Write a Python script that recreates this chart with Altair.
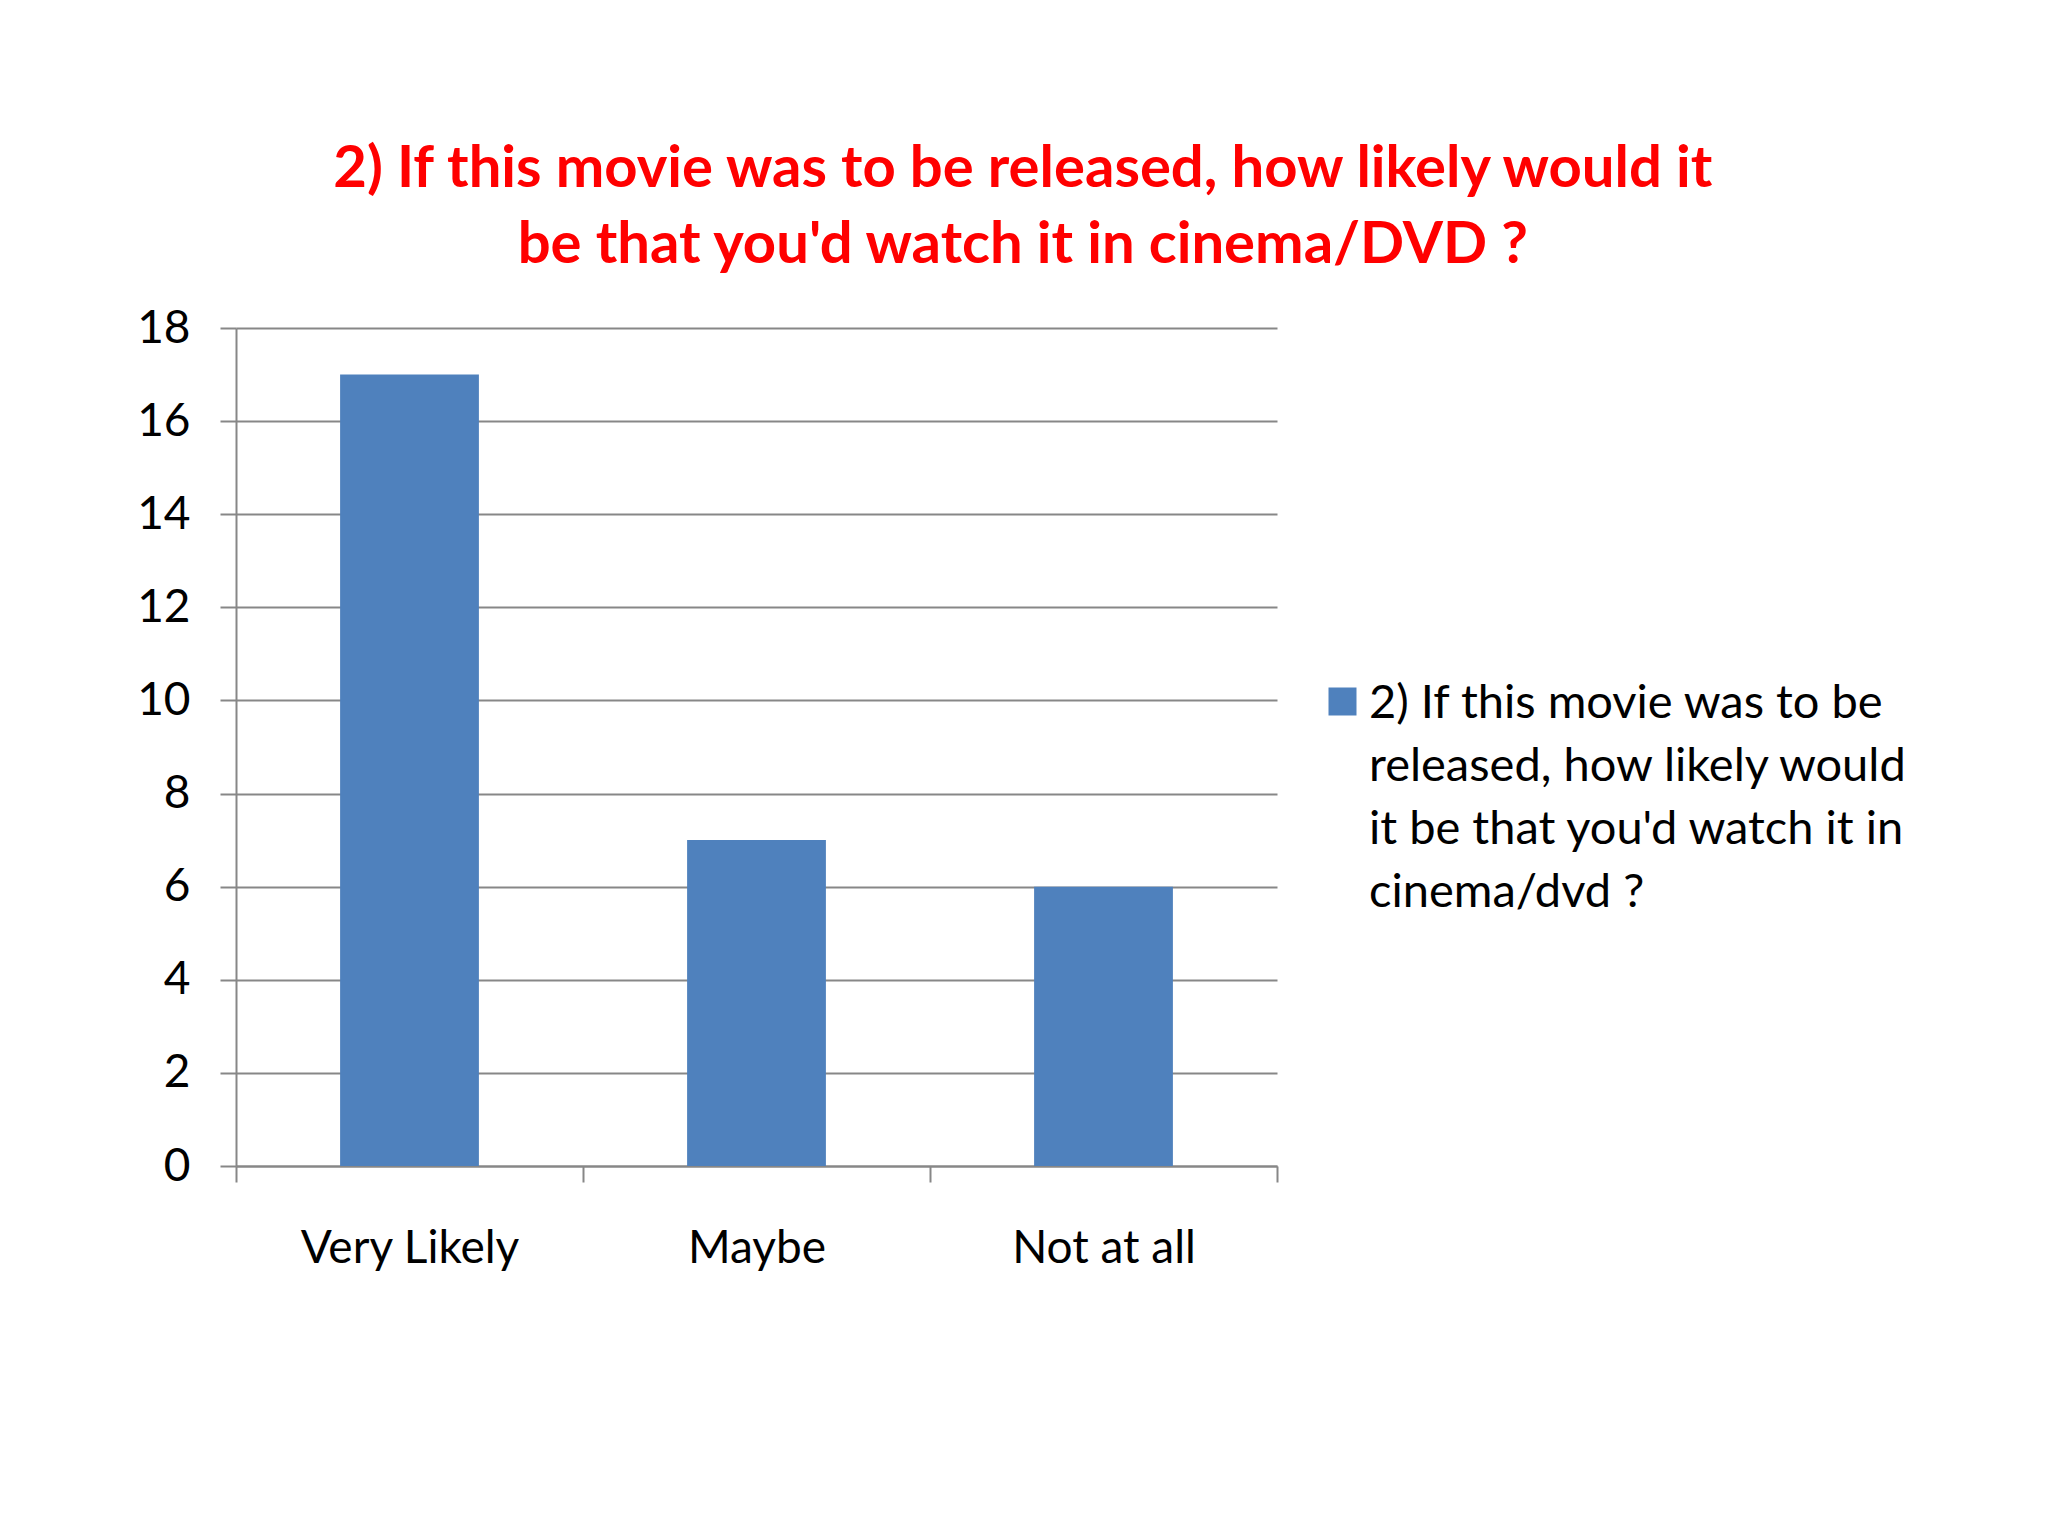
import json
import altair as alt
import pandas as pd

categories = ["Very Likely", "Maybe", "Not at all"]
values = [17, 7, 6]
series_name = "2) If this movie was to be released, how likely would it be that you'd watch it in cinema/dvd ?"
title_lines = ["2) If this movie was to be released, how likely would it",
               "be that you'd watch it in cinema/DVD ?"]
y_ticks = [0, 2, 4, 6, 8, 10, 12, 14, 16, 18]

legend_lines = ["2) If this movie was to be", "released, how likely would",
                "it be that you'd watch it in", "cinema/dvd ?"]

df = pd.DataFrame({"category": categories, "value": values, "series": [series_name] * len(categories)})

FONT = "Lato"
GRID = "#878787"
BAR = "#4F81BD"
SHIFT = 21  # vertical nudge applied to guide labels (legend first line centred on its symbol)

chart = alt.Chart(df).mark_bar(color=BAR, width=alt.RelativeBandSize(0.4)).encode(
    x=alt.X("category:N", sort=categories, title=None,
            scale=alt.Scale(paddingInner=0, paddingOuter=0),
            axis=alt.Axis(labelAngle=0, labelFont=FONT, labelFontSize=46, labelColor="#000000",
                          labelPadding=44 + SHIFT, labelLimit=0, tickBand="extent", tickSize=16,
                          tickColor=GRID, tickWidth=2, domainColor=GRID, domainWidth=2,
                          grid=False)),
    y=alt.Y("value:Q", title=None,
            scale=alt.Scale(domain=[0, 18], nice=False),
            axis=alt.Axis(values=y_ticks, labelFont=FONT, labelFontSize=46, labelColor="#000000",
                          labelPadding=30, labelOffset=SHIFT, tickSize=16, tickColor=GRID,
                          tickWidth=2, domainColor=GRID, domainWidth=2, grid=True,
                          gridColor=GRID, gridWidth=2, gridOpacity=1)),
    color=alt.Color("series:N", scale=alt.Scale(range=[BAR]),
                    legend=alt.Legend(title=None, orient="none", legendX=1083, legendY=350,
                                      symbolType="square", symbolSize=784, symbolStrokeWidth=0,
                                      labelFont=FONT, labelFontSize=47, labelColor="#000000",
                                      labelLimit=0, labelOffset=3, labelBaseline="top",
                                      labelExpr=json.dumps(legend_lines), padding=0)),
).properties(
    width=1041,
    height=838,
    title=alt.TitleParams(text=title_lines, font=FONT, fontSize=58, fontWeight="bold",
                          color="#FF0000", anchor="middle", frame="bounds",
                          lineHeight=76, offset=30, dx=0),
    padding={"left": 128, "top": 133, "right": 20, "bottom": 20},
    background="#FFFFFF",
).configure(
    view={"stroke": None},
    style={"guide-label": {"dy": -SHIFT, "lineHeight": 63}},
)

chart.save("out.html", embed_options={"renderer": "svg", "actions": False})
